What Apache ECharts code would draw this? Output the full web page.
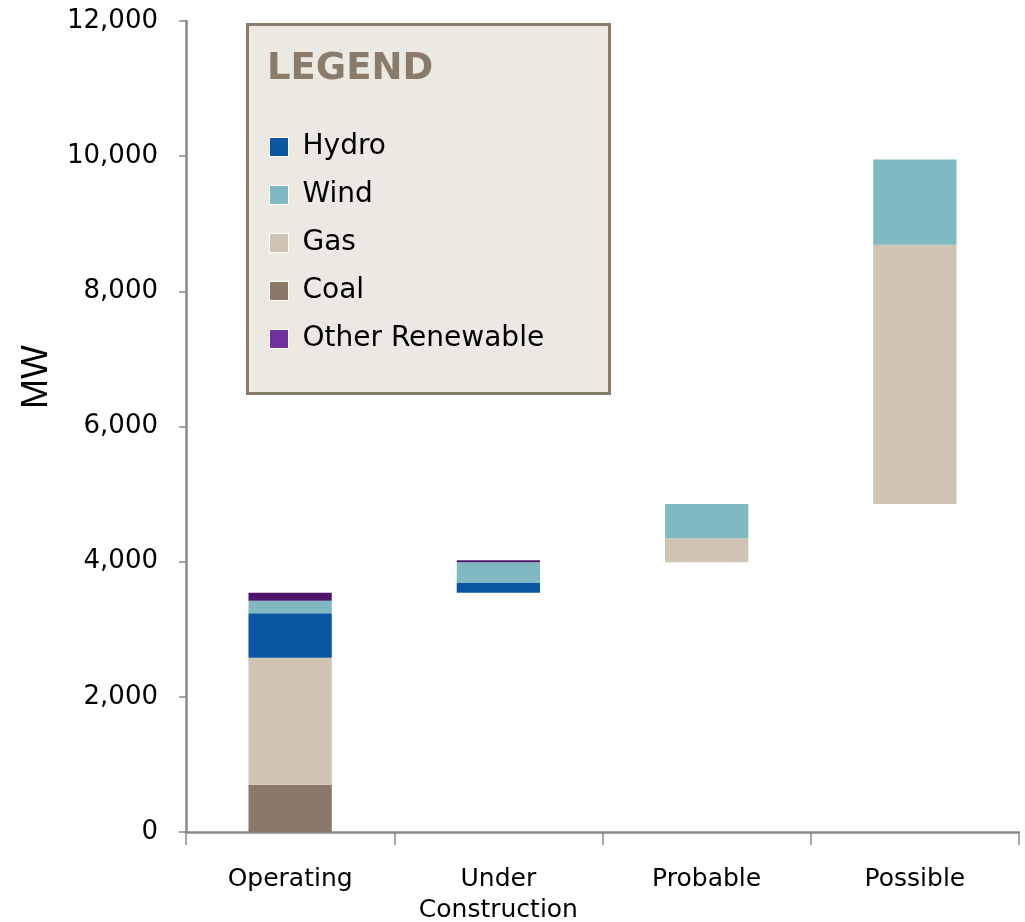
<!DOCTYPE html>
<html>
<head>
<meta charset="utf-8">
<style>
  html, body { margin: 0; padding: 0; background: #ffffff; }
  #chart { width: 1025px; height: 922px; }
</style>
<script src="https://cdn.jsdelivr.net/npm/echarts@6/dist/echarts.min.js"></script>
</head>
<body>
<div id="chart"></div>
<script>
// Capacity pipeline (MW) by project stage, stacked on a running baseline
const categories = ['Operating', 'Under\nConstruction', 'Probable', 'Possible'];
const baseline   = [0, 3540, 3990, 4855];
const coal       = [700, null, null, null];
const gas        = [1880, null, 355, 3835];
const hydro      = [655, 150, null, null];
const wind       = [185, 300, 510, 1260];
const other      = [120, 30, null, null];
const yTicks     = { min: 0, max: 12000, interval: 2000 };

const colors = {
  Hydro: '#0B56A2',
  Wind: '#80B9C1',
  Gas: '#CFC4B3',
  Coal: '#8B7868',
  Other: '#4E166B',
  OtherKey: '#7030A0'
};

const labelFont = 'DejaVu Sans';
const chart = echarts.init(document.getElementById('chart'), null, { renderer: 'canvas' });

function barSeries(name, data, color) {
  return {
    name: name,
    type: 'bar',
    stack: 'pipeline',
    data: data,
    barCategoryGap: '60%',
    itemStyle: { color: color },
    emphasis: { disabled: true }
  };
}

chart.setOption({
  animation: false,
  backgroundColor: '#ffffff',
  grid: { left: 186, right: 6, top: 21, bottom: 90, containLabel: false, outerBoundsMode: 'none' },
  graphic: [
    {
      type: 'rect',
      z: 0,
      shape: { x: 247.5, y: 24.5, width: 362, height: 369 },
      style: { fill: '#ECE9E2', stroke: '#8B7B6B', lineWidth: 3 }
    },
    {
      type: 'text',
      z: 1,
      left: 267,
      top: 51,
      style: {
        text: 'LEGEND',
        fill: '#8B7B6B',
        font: 'bold 37px "DejaVu Sans"'
      }
    },
    {
      type: 'text',
      z: 1,
      rotation: Math.PI / 2,
      x: 37,
      y: 377,
      style: {
        text: 'MW',
        fill: '#000000',
        font: '36px "Liberation Sans"',
        align: 'center',
        verticalAlign: 'middle'
      }
    }
  ],
  legend: {
    z: 10,
    orient: 'vertical',
    left: 269,
    top: 132,
    padding: 0,
    itemGap: 18,
    itemWidth: 19,
    itemHeight: 19,
    icon: 'rect',
    selectedMode: false,
    itemStyle: { borderColor: '#ffffff', borderWidth: 1 },
    textStyle: { fontFamily: labelFont, fontSize: 28, color: '#000000', lineHeight: 30, padding: [0, 0, 0, 9] },
    data: [
      { name: 'Hydro' },
      { name: 'Wind' },
      { name: 'Gas' },
      { name: 'Coal' },
      { name: 'Other Renewable', itemStyle: { color: colors.OtherKey } }
    ]
  },
  xAxis: {
    type: 'category',
    data: categories,
    boundaryGap: true,
    axisLine: { show: true, lineStyle: { color: '#898989', width: 2.5 } },
    axisTick: { show: true, length: 13, lineStyle: { color: '#898989', width: 1.5 } },
    axisLabel: {
      fontFamily: labelFont,
      fontSize: 25,
      color: '#000000',
      margin: 32,
      lineHeight: 31,
      interval: 0
    },
    splitLine: { show: false }
  },
  yAxis: {
    type: 'value',
    min: yTicks.min,
    max: yTicks.max,
    interval: yTicks.interval,
    axisLine: { show: true, lineStyle: { color: '#898989', width: 2.5 } },
    axisTick: { show: true, length: 7, lineStyle: { color: '#898989', width: 1.5 } },
    axisLabel: {
      fontFamily: labelFont,
      fontSize: 26,
      color: '#000000',
      margin: 28,
      formatter: function (v) { return v.toLocaleString('en-US'); }
    },
    splitLine: { show: false }
  },
  series: [
    {
      name: 'base',
      type: 'bar',
      stack: 'pipeline',
      data: baseline,
      barCategoryGap: '60%',
      silent: true,
      itemStyle: { color: 'rgba(0,0,0,0)' },
      emphasis: { disabled: true }
    },
    barSeries('Coal', coal, colors.Coal),
    barSeries('Gas', gas, colors.Gas),
    barSeries('Hydro', hydro, colors.Hydro),
    barSeries('Wind', wind, colors.Wind),
    barSeries('Other Renewable', other, colors.Other)
  ]
});
</script>
</body>
</html>
